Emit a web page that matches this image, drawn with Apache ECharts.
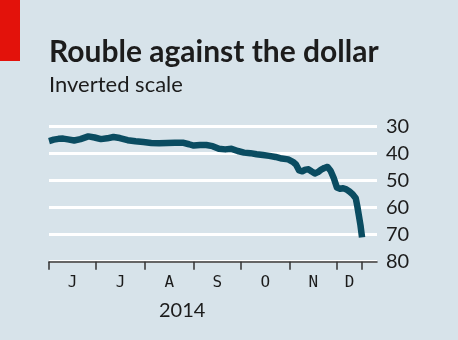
<!DOCTYPE html>
<html>
<head>
<meta charset="utf-8">
<script src="https://cdn.jsdelivr.net/npm/echarts@6/dist/echarts.min.js"></script>
<style>
html,body{margin:0;padding:0;background:#d7e3ea;}
#chart{width:458px;height:340px;}
</style>
</head>
<body>
<div id="chart"></div>
<script>
// Day index counted from 1 June 2014
const days = [0,3,6,9,12,16,20,25,29,33,37,41,45,50,55,60,65,70,75,80,85,89,92,96,100,104,108,112,116,120,124,128,132,136,140,144,148,152,155,157,159,161,163,165,167,169,171,173,175,177,179,181,183,185,187,189,191,193,195,196,197,198,199];
// Roubles per dollar
const roubles = [35.3,34.8,34.5,34.4,34.7,35.1,34.6,33.6,34.0,34.6,34.3,33.8,34.2,35.0,35.4,35.7,36.0,36.1,36.0,35.9,35.9,36.5,37.0,36.8,36.8,37.2,38.2,38.4,38.2,39.0,39.6,39.8,40.2,40.5,40.8,41.2,41.8,42.1,43.0,44.0,46.2,46.5,45.9,45.8,46.6,47.3,46.8,45.9,45.3,44.9,46.3,49.0,52.5,53.0,52.8,53.2,54.0,55.0,56.5,59.5,63.0,66.5,71.0];
const monthTicks = [0,30,61,92,122,153,183,199];
const monthLabelPos = [15,45.5,76.5,107,137.5,168,191];
const monthLabels = ['J','J','A','S','O','N','D'];
const yearLabel = '2014';
const yTicks = [30,40,50,60,70,80];

const chart = echarts.init(document.getElementById('chart'), null, {renderer:'canvas'});
const data = days.map((d,i)=>[d, roubles[i]]);
const FONT = 'Lato';
chart.setOption({
  backgroundColor:'#d7e3ea',
  animation:false,
  title:{
    text:'Rouble against the dollar',
    subtext:'Inverted scale',
    left:44, top:32,
    itemGap:7,
    textStyle:{fontFamily:FONT,fontWeight:'bold',fontSize:30,color:'#1c1c1c'},
    subtextStyle:{fontFamily:FONT,fontWeight:'normal',fontSize:22,color:'#1c1c1c'}
  },
  graphic:[
    {type:'rect',left:0,top:0,shape:{width:20,height:61},style:{fill:'#e3120b'}},
    {type:'text',left:159,top:301,style:{text:yearLabel,font:'20px Lato',fill:'#1c1c1c'}}
  ],
  grid:{left:49,right:81,top:126.7,bottom:78.3,containLabel:false},
  xAxis:{
    type:'value',min:0,max:208.5,
    axisLine:{show:true,lineStyle:{color:'#333',width:1.5}},
    axisTick:{show:true,customValues:monthTicks,length:8,lineStyle:{color:'#333',width:1.5}},
    axisLabel:{show:true,customValues:monthLabelPos,margin:13,
      formatter:(v)=>{const i=monthLabelPos.indexOf(v);return i>=0?monthLabels[i]:'';},
      fontFamily:'DejaVu Sans Mono',fontSize:16,color:'#1c1c1c'},
    splitLine:{show:false}
  },
  yAxis:{
    type:'value',inverse:true,min:30,max:80,interval:10,position:'right',
    axisLine:{show:false},axisTick:{show:false},
    axisLabel:{margin:9,fontFamily:FONT,fontSize:20,color:'#1c1c1c',
      formatter:(v)=>yTicks.indexOf(v)>=0?String(v):''},
    splitLine:{show:true,lineStyle:{color:'#ffffff',width:3}}
  },
  series:[{
    type:'line',data:data,symbol:'none',smooth:false,
    lineStyle:{color:'#0a4c61',width:6.5,join:'round'}
  }]
});
</script>
</body>
</html>
